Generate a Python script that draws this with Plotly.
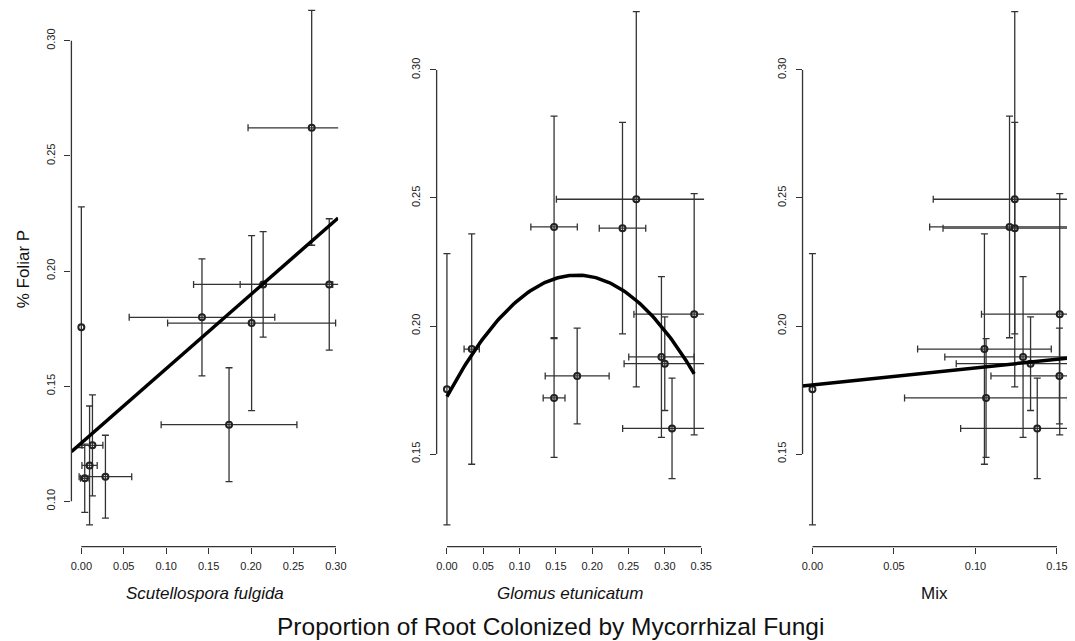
import numpy as np
import plotly.graph_objects as go

# ---------------- data ----------------
# Panel 1: Scutellospora fulgida
sf_x = [0.000, 0.0131, 0.0097, 0.0040, 0.0284, 0.1422, 0.2007, 0.2143, 0.2922, 0.2715, 0.1741]
sf_xerr = [0.0, 0.0123, 0.0090, 0.0050, 0.0310, 0.0858, 0.0990, 0.0820, 0.1050, 0.0750, 0.0800]
sf_y = [0.1756, 0.1243, 0.1156, 0.1100, 0.1107, 0.1799, 0.1774, 0.1942, 0.1942, 0.2622, 0.1333]
sf_yerr = [0.0523, 0.0219, 0.0258, 0.0148, 0.0180, 0.0254, 0.0380, 0.0229, 0.0285, 0.0510, 0.0247]
sf_fit = [0.1253, 0.3229]                 # intercept, slope

# Panel 2: Glomus etunicatum
ge_x = [0.000, 0.0341, 0.1475, 0.2607, 0.2417, 0.1475, 0.1793, 0.3404, 0.2953, 0.2999, 0.3099]
ge_xerr = [0.0, 0.0105, 0.0320, 0.1100, 0.0320, 0.0150, 0.0440, 0.0830, 0.0450, 0.0560, 0.0680]
ge_y = [0.1753, 0.1910, 0.2387, 0.2495, 0.2382, 0.1719, 0.1805, 0.2046, 0.1879, 0.1853, 0.1600]
ge_yerr = [0.0530, 0.0450, 0.0433, 0.0733, 0.0413, 0.0232, 0.0187, 0.0471, 0.0314, 0.0183, 0.0196]
ge_fit = [0.1724, 0.530, -1.48]           # quadratic: a + b x + c x^2

# Panel 3: Mix
mix_x = [0.000, 0.1055, 0.1209, 0.1241, 0.1241, 0.1065, 0.1515, 0.1517, 0.1292, 0.1338, 0.1379]
mix_xerr = [0.0, 0.0410, 0.0490, 0.0500, 0.0440, 0.0500, 0.0420, 0.0480, 0.0480, 0.0456, 0.0470]
mix_y = ge_y
mix_yerr = ge_yerr
mix_fit = [0.1770, 0.0666]                # intercept, slope

# axis ticks
sf_xticks = [0.00, 0.05, 0.10, 0.15, 0.20, 0.25, 0.30]
ge_xticks = [0.00, 0.05, 0.10, 0.15, 0.20, 0.25, 0.30, 0.35]
mix_xticks = [0.00, 0.05, 0.10, 0.15]
sf_yticks = [0.10, 0.15, 0.20, 0.25, 0.30]
ge_yticks = [0.15, 0.20, 0.25, 0.30]

x_titles = ["Scutellospora fulgida", "Glomus etunicatum", "Mix"]
y_title = "% Foliar P"
main_title = "Proportion of Root Colonized by Mycorrhizal Fungi"

# ---------------- layout geometry ----------------
W, H = 1075, 641
FONT = "Liberation Sans, Arial, Helvetica, sans-serif"
LINE_C = "#333333"
TICK_C = "#222222"

panels = [
    dict(x=sf_x, xerr=sf_xerr, y=sf_y, yerr=sf_yerr, xt=sf_xticks, yt=sf_yticks,
         xdom=[71 / W, 340 / W], xr=[-0.0117, 0.3027], yr=[0.0803, 0.3177]),
    dict(x=ge_x, xerr=ge_xerr, y=ge_y, yerr=ge_yerr, xt=ge_xticks, yt=ge_yticks,
         xdom=[439.3 / W, 709 / W], xr=[-0.0142, 0.3540], yr=[0.11379, 0.32734]),
    dict(x=mix_x, xerr=mix_xerr, y=mix_y, yerr=mix_yerr, xt=mix_xticks, yt=ge_yticks,
         xdom=[808.3 / W, 1.0], xr=[-0.00608, 0.15615], yr=[0.11379, 0.32734]),
]
ydom = [1 - 546.7 / H, 1.0]

fig = go.Figure()
shapes = []
annotations = []

for i, p in enumerate(panels):
    n = "" if i == 0 else str(i + 1)
    xa, ya = "x" + n, "y" + n
    x = np.array(p["x"]); y = np.array(p["y"])
    xe = np.array(p["xerr"]); ye = np.array(p["yerr"])
    has_xe = xe > 0
    for mask, use_xe in ((has_xe, True), (~has_xe, False)):
        if not mask.any():
            continue
        tr = go.Scatter(
            x=x[mask], y=y[mask], mode="markers", xaxis=xa, yaxis=ya,
            marker=dict(symbol="circle-open", size=6, color="#222222", line=dict(width=2)),
            error_y=dict(type="data", array=ye[mask], visible=True, color=LINE_C,
                         thickness=1.3, width=3.5),
            showlegend=False, hoverinfo="skip",
        )
        if use_xe:
            tr.error_x = dict(type="data", array=xe[mask], visible=True, color=LINE_C,
                              thickness=1.3, width=3.5)
        fig.add_trace(tr)

    # axis settings
    fig.layout["xaxis" + n] = dict(
        domain=p["xdom"], range=p["xr"], anchor=ya, showgrid=False, zeroline=False,
        showline=False, ticks="outside", ticklen=6, tickwidth=1.2, tickcolor=LINE_C,
        tickvals=p["xt"], ticktext=["%.2f" % v for v in p["xt"]], ticklabelstandoff=3,
        tickfont=dict(family=FONT, size=11, color=TICK_C),
    )
    fig.layout["yaxis" + n] = dict(
        domain=ydom, range=p["yr"], anchor=xa, showgrid=False, zeroline=False,
        showline=False, ticks="outside", ticklen=6, tickwidth=1.2, tickcolor=LINE_C,
        tickvals=p["yt"], ticktext=["%.2f" % v for v in p["yt"]], tickangle=-90,
        ticklabelstandoff=5,
        tickfont=dict(family=FONT, size=11, color=TICK_C),
    )
    # R-style axis lines spanning first to last tick
    shapes.append(dict(type="line", xref=xa + " domain", yref=ya, x0=0, x1=0,
                       y0=p["yt"][0], y1=p["yt"][-1], line=dict(color=LINE_C, width=1.3)))
    shapes.append(dict(type="line", xref=xa, yref=ya + " domain", x0=p["xt"][0], x1=p["xt"][-1],
                       y0=0, y1=0, line=dict(color=LINE_C, width=1.3)))
    # x-axis title
    txt = "<i>" + x_titles[i] + "</i>" if i < 2 else x_titles[i]
    annotations.append(dict(
        text=txt, xref="x" + n + " domain", yref="paper", x=0.5, y=1 - 593 / H,
        xanchor="center", yanchor="middle", showarrow=False,
        font=dict(family=FONT, size=17, color="#111111"),
    ))

# fitted lines
xr0 = panels[0]["xr"]
fig.add_trace(go.Scatter(x=xr0, y=[sf_fit[0] + sf_fit[1] * v for v in xr0], mode="lines",
                         xaxis="x", yaxis="y", line=dict(color="black", width=3.5),
                         showlegend=False, hoverinfo="skip"))
gx = np.linspace(min(ge_x), max(ge_x), 120)
fig.add_trace(go.Scatter(x=gx, y=ge_fit[0] + ge_fit[1] * gx + ge_fit[2] * gx ** 2, mode="lines",
                         xaxis="x2", yaxis="y2", line=dict(color="black", width=3.5),
                         showlegend=False, hoverinfo="skip"))
xr2 = panels[2]["xr"]
fig.add_trace(go.Scatter(x=[-0.0062, xr2[1]], y=[mix_fit[0] + mix_fit[1] * v for v in [-0.0062, xr2[1]]],
                         mode="lines", xaxis="x3", yaxis="y3", line=dict(color="black", width=3.5),
                         showlegend=False, hoverinfo="skip"))

annotations.append(dict(text=y_title, xref="paper", yref="paper", x=23 / W, y=1 - 269.5 / H,
                        textangle=-90, xanchor="center", yanchor="middle", showarrow=False,
                        font=dict(family=FONT, size=17, color="#111111")))
annotations.append(dict(text=main_title, xref="paper", yref="paper", x=554 / W, y=1 - 626 / H,
                        xanchor="center", yanchor="middle", showarrow=False,
                        font=dict(family=FONT, size=24.5, color="#111111")))

fig.update_layout(
    width=W, height=H, margin=dict(l=0, r=0, t=0, b=0),
    paper_bgcolor="white", plot_bgcolor="white",
    shapes=shapes, annotations=annotations, showlegend=False,
)

fig.write_html("out.html")
